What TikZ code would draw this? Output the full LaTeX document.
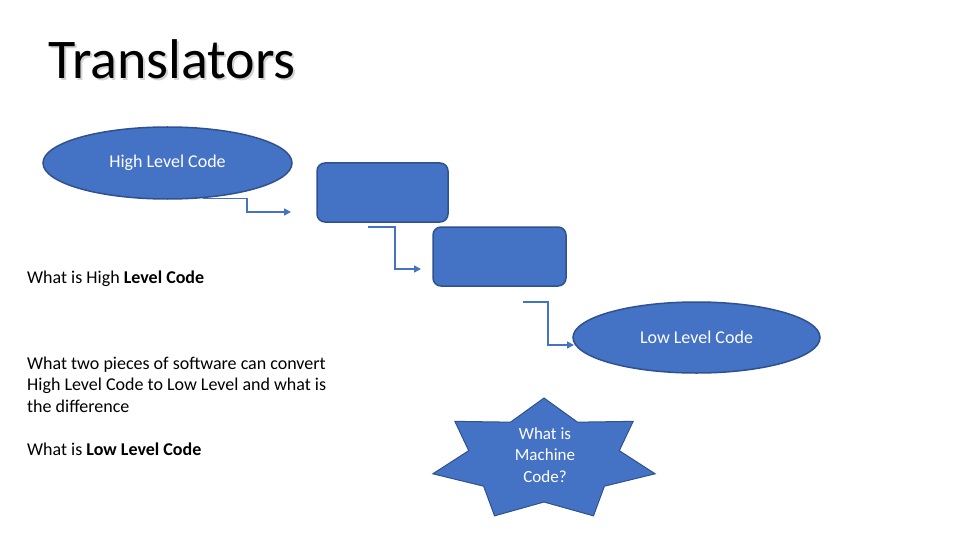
\documentclass[tikz,border=0pt]{standalone}
\usepackage{fontspec}
\setmainfont{Carlito}
\usetikzlibrary{shapes.geometric,arrows.meta}
\definecolor{fillblue}{HTML}{4472C4}
\definecolor{edgeblue}{HTML}{2F528F}
\definecolor{shadowgrey}{HTML}{D4D4D4}
\tikzset{
  blob/.style={ellipse, fill=fillblue, draw=edgeblue, line width=1.5pt, inner sep=0pt, text=white, font=\fontsize{18}{21}\selectfont},
  boxshape/.style={rectangle, rounded corners=8pt, fill=fillblue, draw=edgeblue, line width=1.5pt, inner sep=0pt},
  link/.style={draw=fillblue, line width=1.5pt, -{Triangle[length=7pt,width=7pt]}},
  body/.style={anchor=base west, inner sep=0pt, font=\fontsize{18}{21.4}\selectfont, align=left},
  titletext/.style={anchor=base west, inner sep=0pt, font=\fontsize{56}{62}\selectfont}
}
\begin{document}
\begin{tikzpicture}[x=1pt,y=-1pt]
\useasboundingbox (0,0) rectangle (960,540);
% title with shadow
\node[titletext, text=shadowgrey] (titleshadow) at (50,81) {Translators};
\node[titletext] (title) at (48,79) {Translators};
% shapes
\node[blob, minimum width=249pt, minimum height=72pt] (high) at (167.5,163) {High Level Code};
\node[boxshape, minimum width=131pt, minimum height=59pt] (box1) at (382.5,192.5) {};
\node[boxshape, minimum width=133pt, minimum height=59pt] (box2) at (499.5,256.5) {};
\node[blob, minimum width=247pt, minimum height=71pt] (low) at (696.5,337.5) {Low Level Code};
% star
\begin{scope}[shift={(544,460)}, xscale=1.839]
\fill[fillblue, draw=edgeblue, line width=1pt]
  (-90:62) -- (-64.29:42) -- (-38.57:62) -- (-12.86:42) -- (12.86:62) -- (38.57:42)
  -- (64.29:62) -- (90:42) -- (115.71:62) -- (141.43:42) -- (167.14:62) -- (192.86:42)
  -- (218.57:62) -- (244.29:42) -- cycle;
\end{scope}
\node[align=center, text=white, inner sep=0pt, font=\fontsize{17}{21.5}\selectfont] (machine) at (545,455) {What is\\Machine\\Code?};
% connectors
\coordinate (c1s) at (203,198.5);
\coordinate (c1e) at (291,212);
\coordinate (c2s) at (368,227);
\coordinate (c2e) at (421,269);
\coordinate (c3s) at (523,302);
\coordinate (c3e) at (574,345);
\draw[link] (c1s) -- (247,198.5) -- (247,212) -- (c1e);
\draw[link] (c2s) -- (395,227) -- (395,269) -- (c2e);
\draw[link] (c3s) -- (548,302) -- (548,345) -- (c3e);
% body text
\node[body] (q1) at (27,283) {What is High \textbf{Level Code}};
\node[body] (q2) at (27,412) {What two pieces of software can convert\\High Level Code to Low Level and what is\\the difference};
\node[body] (q3) at (27,455) {What is \textbf{Low Level Code}};
\end{tikzpicture}
\end{document}
